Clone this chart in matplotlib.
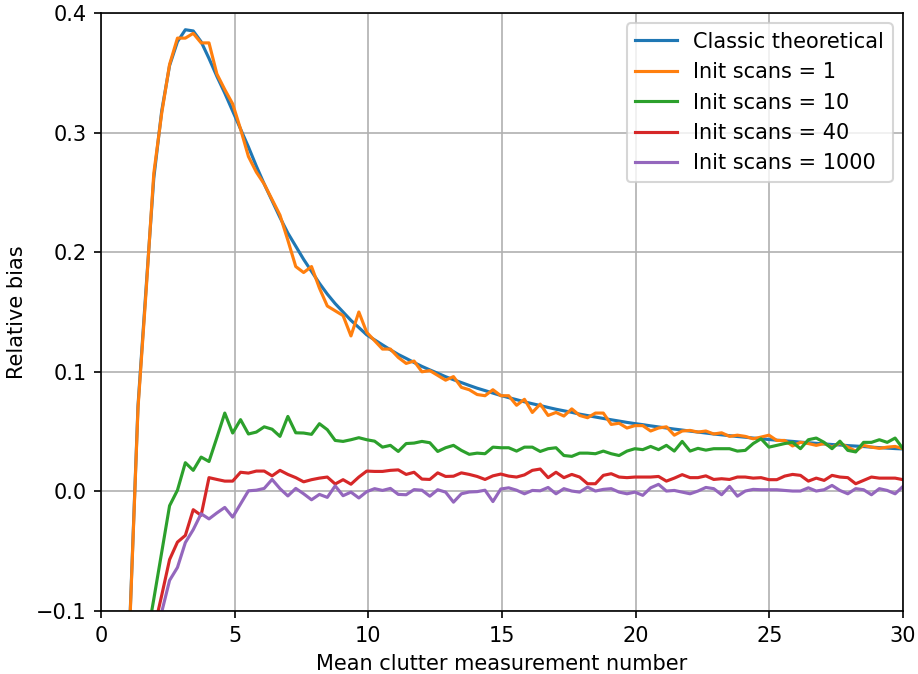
import numpy as np
import matplotlib
matplotlib.use("Agg")
import matplotlib.pyplot as plt

# x grid: mean clutter measurement number
mean_clutter = np.linspace(0.5, 30, 101)

classic_theoretical = [
    -0.8, -0.4, -0.102, 0.072, 0.168, 0.262, 0.318, 0.356, 0.376, 0.386,
    0.385, 0.376, 0.362, 0.347, 0.333, 0.318, 0.303, 0.288, 0.272, 0.257,
    0.243, 0.229, 0.216, 0.205, 0.194, 0.184, 0.174, 0.165, 0.157, 0.150,
    0.143, 0.137, 0.1309, 0.1267, 0.1225, 0.1184, 0.1145, 0.1112, 0.1078, 0.1045,
    0.1016, 0.0988, 0.0959, 0.0934, 0.0910, 0.0886, 0.0863, 0.0843, 0.0822, 0.0802,
    0.0784, 0.0767, 0.0749, 0.0733, 0.0718, 0.0702, 0.0687, 0.0674, 0.0661, 0.0646,
    0.0634, 0.0622, 0.0610, 0.0599, 0.0588, 0.0577, 0.0567, 0.0558, 0.0548, 0.0539,
    0.0530, 0.0521, 0.0513, 0.0504, 0.0496, 0.0488, 0.0480, 0.0473, 0.0466, 0.0459,
    0.0453, 0.0446, 0.0440, 0.0434, 0.0428, 0.0423, 0.0418, 0.0412, 0.0407, 0.0402,
    0.0397, 0.0392, 0.0388, 0.0383, 0.0379, 0.0375, 0.0370, 0.0366, 0.0362, 0.0358,
    0.0355,
]

init_scans_1 = [
    -0.8, -0.4, -0.104, 0.07, 0.165, 0.266, 0.316, 0.357, 0.379, 0.379,
    0.383, 0.375, 0.375, 0.349, 0.336, 0.324, 0.303, 0.280, 0.267, 0.257,
    0.244, 0.231, 0.210, 0.188, 0.183, 0.188, 0.170, 0.155, 0.151, 0.147,
    0.130, 0.150, 0.133, 0.126, 0.119, 0.119, 0.112, 0.107, 0.109, 0.100,
    0.101, 0.097, 0.093, 0.096, 0.087, 0.085, 0.081, 0.080, 0.085, 0.080,
    0.080, 0.072, 0.077, 0.066, 0.073, 0.0635, 0.066, 0.063, 0.069, 0.0635,
    0.0616, 0.0655, 0.0655, 0.056, 0.057, 0.053, 0.055, 0.055, 0.0505, 0.053,
    0.054, 0.047, 0.0505, 0.051, 0.0496, 0.0505, 0.048, 0.049, 0.046, 0.047,
    0.046, 0.044, 0.0454, 0.047, 0.0426, 0.0426, 0.038, 0.041, 0.040, 0.0385,
    0.040, 0.037, 0.0404, 0.037, 0.0337, 0.0385, 0.037, 0.036, 0.037, 0.0376,
    0.0357,
]

init_scans_10 = [
    -0.5, -0.4, -0.3, -0.2, -0.128, -0.09, -0.051, -0.012, 0.001, 0.024,
    0.0176, 0.0287, 0.025, 0.045, 0.0655, 0.0488, 0.060, 0.048, 0.0496, 0.054,
    0.052, 0.046, 0.0627, 0.049, 0.0488, 0.0477, 0.0566, 0.0516, 0.0426, 0.0418,
    0.0432, 0.0449, 0.0432, 0.042, 0.037, 0.0385, 0.0334, 0.040, 0.0404, 0.0418,
    0.0407, 0.0334, 0.0365, 0.0385, 0.0343, 0.031, 0.032, 0.0315, 0.037, 0.0365,
    0.0365, 0.0337, 0.037, 0.037, 0.0334, 0.0357, 0.0365, 0.030, 0.0293, 0.032,
    0.032, 0.0315, 0.0337, 0.0315, 0.030, 0.0337, 0.0357, 0.0349, 0.0376, 0.0349,
    0.0385, 0.0337, 0.0418, 0.0337, 0.036, 0.0345, 0.0357, 0.0357, 0.0357, 0.0337,
    0.0343, 0.040, 0.044, 0.037, 0.0385, 0.040, 0.041, 0.0357, 0.0432, 0.0446,
    0.041, 0.0357, 0.042, 0.0343, 0.033, 0.041, 0.041, 0.0432, 0.041, 0.0446,
    0.0357,
]

init_scans_40 = [
    -0.5, -0.4, -0.3, -0.24, -0.17, -0.116, -0.087, -0.057, -0.0424, -0.0368,
    -0.0153, -0.020, 0.0115, 0.010, 0.0086, 0.0086, 0.016, 0.0153, 0.017, 0.017,
    0.013, 0.0176, 0.0142, 0.0115, 0.008, 0.0098, 0.0111, 0.012, 0.0062, 0.0098,
    0.006, 0.012, 0.017, 0.0167, 0.0167, 0.0176, 0.018, 0.0142, 0.016, 0.0103,
    0.010, 0.0155, 0.0125, 0.0127, 0.0155, 0.0142, 0.0125, 0.010, 0.013, 0.0145,
    0.0128, 0.012, 0.0138, 0.0176, 0.0187, 0.0115, 0.016, 0.0115, 0.0142, 0.012,
    0.0064, 0.0064, 0.0134, 0.0148, 0.012, 0.0115, 0.012, 0.012, 0.012, 0.0125,
    0.0086, 0.0111, 0.014, 0.0115, 0.0115, 0.013, 0.010, 0.0106, 0.010, 0.012,
    0.012, 0.0111, 0.0115, 0.0098, 0.0098, 0.0128, 0.0142, 0.0134, 0.0086, 0.0111,
    0.0092, 0.0134, 0.012, 0.0115, 0.0064, 0.0092, 0.012, 0.0111, 0.0111, 0.0111,
    0.0098,
]

init_scans_1000 = [
    -0.5, -0.4, -0.3, -0.25, -0.2, -0.135, -0.101, -0.0744, -0.0636, -0.0428,
    -0.032, -0.0187, -0.023, -0.018, -0.0134, -0.0215, -0.0105, 0.0005, 0.001, 0.0025,
    0.010, 0.0023, -0.0038, 0.0025, -0.002, -0.007, -0.0025, -0.005, 0.0046, -0.0036,
    -0.0006, -0.0055, -0.0002, 0.0023, 0.0008, 0.0025, -0.0025, -0.0028, 0.0015, 0.001,
    -0.004, 0.0014, -0.0006, -0.009, -0.002, -0.0005, -0.0002, 0.001, -0.0085, 0.002,
    0.003, 0.001, -0.002, 0.0008, 0.0005, 0.0033, -0.002, 0.0023, 0.0003, -0.0006,
    0.0036, 0.0003, 0.0017, 0.0023, -0.0006, -0.002, -0.0006, -0.0033, 0.003, 0.0059,
    0.0003, 0.0008, -0.0006, -0.002, 0.0003, 0.0033, 0.0023, -0.0028, 0.0042, -0.004,
    0.0003, 0.0017, 0.0014, 0.0014, 0.0014, 0.0008, 0.0003, 0.0003, 0.003, 0.0003,
    0.0014, 0.005, 0.0008, -0.002, 0.0023, 0.0014, -0.0028, 0.0023, 0.0008, -0.002,
    0.0042,
]

series = [
    ("Classic theoretical", classic_theoretical),
    ("Init scans = 1", init_scans_1),
    ("Init scans = 10", init_scans_10),
    ("Init scans = 40", init_scans_40),
    ("Init scans = 1000", init_scans_1000),
]

dpi = 150
fig = plt.figure(figsize=(918 / dpi, 674 / dpi), dpi=dpi)
ax = fig.add_axes([101 / 918, 1 - 611 / 674, 802 / 918, 598 / 674])

for label, values in series:
    ax.plot(mean_clutter, values, label=label, linewidth=1.5)

ax.set_xlim(0, 30)
ax.set_ylim(-0.1, 0.4)
ax.set_yticks([-0.1, 0.0, 0.1, 0.2, 0.3, 0.4])
ax.grid(True)
ax.set_xlabel("Mean clutter measurement number")
ax.set_ylabel("Relative bias")
ax.legend(loc="upper right")

fig.savefig("out.png", dpi=dpi)
